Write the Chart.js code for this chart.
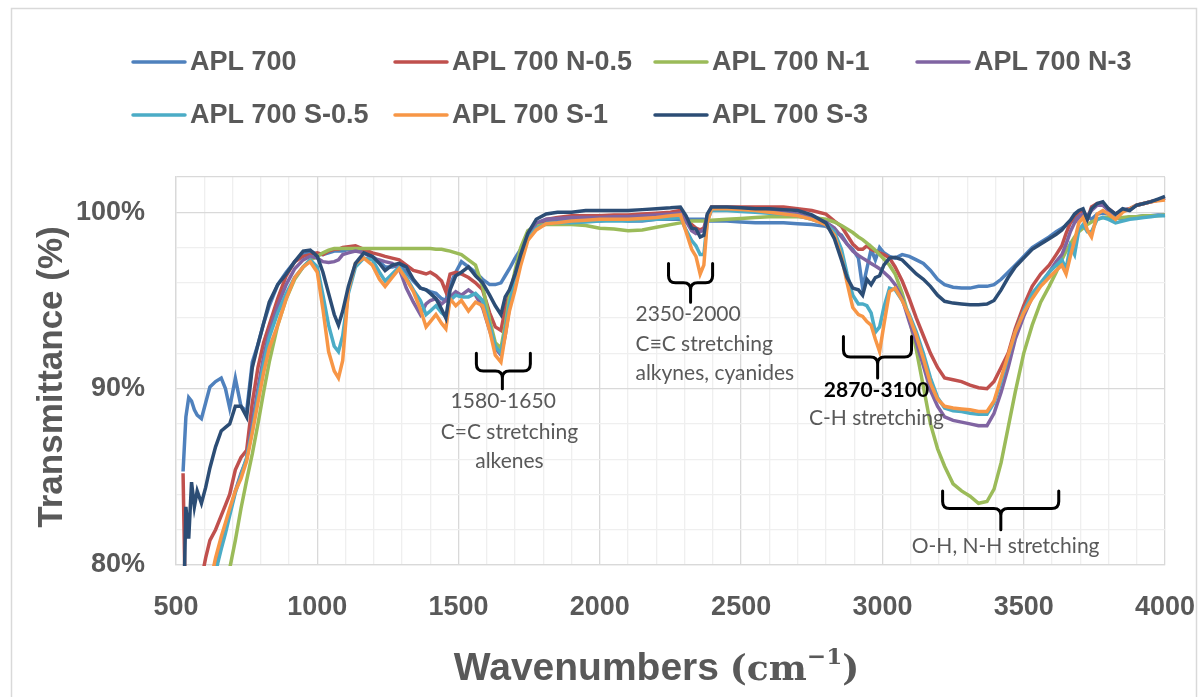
<!DOCTYPE html>
<html>
<head>
<meta charset="utf-8">
<script src="https://cdn.jsdelivr.net/npm/chart.js@4.4.1/dist/chart.umd.min.js"></script>
<style>
  html, body { margin: 0; padding: 0; background: #fff; }
  canvas { display: block; }
</style>
</head>
<body>
<canvas id="graficoFTIR" width="1203" height="697"></canvas>
<script>
const numerosDeOnda = [
  525, 535, 545, 555, 565, 575, 590, 605, 620, 640,
  660, 675, 690, 710, 730, 750, 770, 790, 810, 830,
  860, 890, 920, 950, 975, 1000, 1020, 1040, 1060, 1075,
  1090, 1110, 1135, 1165, 1195, 1220, 1240, 1265, 1290, 1315,
  1340, 1365, 1385, 1400, 1420, 1440, 1455, 1470, 1490, 1510,
  1535, 1560, 1585, 1610, 1630, 1650, 1665, 1680, 1700, 1720,
  1745, 1775, 1810, 1850, 1900, 1950, 2000, 2050, 2100, 2150,
  2200, 2250, 2285, 2305, 2325, 2340, 2355, 2368, 2380, 2395,
  2450, 2500, 2550, 2600, 2650, 2700, 2750, 2800, 2830, 2855,
  2875, 2895, 2915, 2930, 2945, 2960, 2975, 2990, 3005, 3025,
  3045, 3070, 3095, 3120, 3145, 3170, 3195, 3220, 3250, 3280,
  3310, 3340, 3370, 3395, 3420, 3445, 3470, 3500, 3530, 3560,
  3590, 3615, 3635, 3650, 3665, 3680, 3695, 3710, 3725, 3740,
  3760, 3780, 3800, 3825, 3850, 3875, 3900, 3925, 3950, 3975,
  4000
];

const apl700 = [
  85.3, 88.4, 89.5, 89.3, 88.8, 88.5, 88.3, 89.2, 90.1, 90.4,
  90.6, 90.0, 88.9, 90.6, 89.0, 88.7, 91.5, 92.5, 93.7, 94.7,
  95.9, 96.6, 97.2, 97.6, 97.8, 97.6, 97.6, 97.7, 97.8, 97.8,
  97.8, 97.9, 97.9, 97.8, 97.5, 97.2, 96.9, 96.9, 97.0, 96.6,
  96.1, 95.7, 95.6, 95.5, 95.4, 95.1, 95.0, 95.9, 96.6, 97.2,
  96.9, 96.6, 96.2, 95.9, 95.9, 96.0, 96.4, 96.8, 97.4, 97.9,
  98.6, 99.2, 99.5, 99.5, 99.6, 99.6, 99.5, 99.6, 99.5, 99.5,
  99.6, 99.6, 99.6, 99.6, 99.6, 99.6, 99.6, 99.6, 99.5, 99.5,
  99.5, 99.45, 99.4, 99.4, 99.4, 99.35, 99.3, 99.2, 98.9, 98.7,
  98.2, 97.9, 97.4, 95.7, 96.8, 97.9, 97.3, 98.0, 97.7, 97.5,
  97.4, 97.6, 97.5, 97.3, 97.1, 96.7, 96.2, 95.9, 95.75, 95.7,
  95.7, 95.8, 95.8, 95.9, 96.2, 96.6, 97.0, 97.5, 98.0, 98.3,
  98.6, 98.9, 99.1, 99.25, 99.4, 99.6, 99.8, 99.9, 99.8, 99.6,
  99.9, 99.95, 99.9, 99.7, 99.6, 99.75, 99.75, 99.8, 99.8, 99.85,
  99.85
];

const apl700N05 = [
  85.2, 76.0, 75.0, 75.5, 76.5, 77.5, 79.2, 80.4, 81.4, 82.0,
  82.8, 83.4, 84.0, 85.4, 86.1, 86.5, 89.2, 91.2, 92.6, 93.6,
  95.1, 96.4, 97.2, 97.5, 97.6, 97.7, 97.6, 97.8, 97.9, 97.9,
  98.0, 98.05, 98.1, 97.9, 97.7, 97.6, 97.5, 97.4, 97.3, 97.0,
  96.7, 96.6, 96.5, 96.6, 96.4, 96.1, 95.5, 96.5, 96.6, 96.5,
  96.3, 96.0, 95.6, 94.3, 93.5, 93.3, 94.5, 95.4, 96.5, 97.4,
  98.5, 99.3, 99.6, 99.7, 99.8, 99.8, 99.8, 99.85, 99.85, 99.9,
  99.95, 100.0, 100.1, 99.7, 99.3, 99.1, 99.0, 99.1, 99.8, 100.3,
  100.3, 100.3, 100.3, 100.3, 100.3, 100.2, 100.1, 99.9, 99.5, 99.2,
  98.7, 98.2, 97.9, 97.9, 98.1, 97.9, 97.8, 97.7, 97.6, 97.4,
  96.9, 96.1, 95.1, 94.0, 93.0, 92.0, 91.2, 90.6, 90.5, 90.4,
  90.2, 90.05, 90.0, 90.4, 91.2, 92.0, 93.4, 94.7, 95.8, 96.5,
  97.0, 97.6, 98.1, 98.8, 99.4, 99.8, 100.0, 100.1, 99.6, 100.3,
  100.5, 100.5, 100.2, 99.9, 100.1, 100.2, 100.4, 100.5, 100.6, 100.7,
  100.8
];

const apl700N1 = [
  70.0, 70.5, 71.0, 71.5, 72.0, 72.5, 73.3, 74.2, 75.0, 76.4,
  77.7, 78.8, 79.8, 81.4, 83.2, 84.8, 86.3, 88.0, 89.8, 91.5,
  93.6, 95.1, 96.2, 96.9, 97.3, 97.5, 97.7, 97.85, 97.95, 97.95,
  97.95, 97.95, 97.95, 97.95, 97.95, 97.95, 97.95, 97.95, 97.95, 97.95,
  97.95, 97.95, 97.95, 97.95, 97.9, 97.9, 97.85, 97.8, 97.7, 97.6,
  97.3, 97.0, 95.8, 93.9, 92.6, 92.3, 93.6, 95.2, 96.7, 98.0,
  98.95, 99.25, 99.3, 99.3, 99.3, 99.25, 99.1, 99.05, 98.95, 99.0,
  99.15, 99.3, 99.4, 99.45, 99.5, 99.5, 99.5, 99.5, 99.55, 99.55,
  99.6, 99.65, 99.7, 99.75, 99.75, 99.75, 99.7, 99.6, 99.45, 99.25,
  99.05, 98.85, 98.6, 98.45, 98.25, 98.05, 97.85, 97.6, 97.35, 97.0,
  96.5, 95.4, 94.0, 92.2, 90.1, 88.0, 86.6, 85.6, 84.6, 84.2,
  83.9, 83.5, 83.6, 84.3, 85.8, 87.8, 89.8, 92.0, 93.6, 94.9,
  95.8, 96.6, 97.3, 97.8, 98.2, 98.6, 98.9, 99.1, 99.3, 99.45,
  99.6, 99.7, 99.7, 99.65, 99.7, 99.75, 99.75, 99.8, 99.8, 99.8,
  99.85
];

const apl700N3 = [
  72.0, 72.5, 73.0, 73.5, 74.0, 74.8, 76.0, 77.3, 78.6, 80.2,
  81.4, 82.2, 83.0, 84.2, 85.2, 86.0, 88.0, 90.0, 91.8, 93.2,
  94.7, 95.9, 96.8, 97.3, 97.5, 97.4, 97.2, 97.15, 97.2, 97.3,
  97.6, 97.7, 97.8, 97.7, 97.4, 97.3, 97.2, 97.1, 96.8, 95.7,
  94.9, 94.2, 94.8, 95.0, 95.1, 94.8, 95.0, 95.2, 95.5, 95.3,
  95.6, 95.3, 94.6, 93.3, 92.3, 91.9, 93.0, 94.6, 96.1, 97.5,
  98.6, 99.4, 99.6, 99.65, 99.7, 99.7, 99.7, 99.75, 99.75, 99.8,
  99.85, 99.9, 99.95, 99.5, 98.95, 98.8, 98.9, 99.0, 99.8, 100.2,
  100.2, 100.2, 100.15, 100.1, 100.0, 99.9, 99.7, 99.45, 99.1, 98.6,
  98.2, 97.8, 97.55, 97.4, 97.25, 97.1, 96.95, 96.8, 96.6, 96.3,
  95.9, 95.1, 93.8, 92.6, 91.3, 89.9, 89.0, 88.4, 88.2, 88.1,
  88.0, 87.9, 87.9, 88.6, 89.8, 91.2, 92.8, 94.1, 95.2, 95.9,
  96.6, 97.2, 97.6, 98.2, 98.9, 99.4, 99.7, 99.9, 99.8, 100.1,
  100.4, 100.4, 100.1, 99.9, 100.1, 100.2, 100.4, 100.5, 100.6, 100.7,
  100.8
];

const apl700S05 = [
  71.0, 71.5, 72.0, 72.5, 73.2, 74.0, 75.2, 76.5, 77.8, 79.6,
  80.9, 81.8, 82.8, 84.1, 85.1, 86.1, 87.6, 89.6, 91.4, 92.9,
  94.3, 95.4, 96.3, 96.9, 97.3, 96.9, 95.3, 93.6, 92.4, 92.1,
  93.0, 95.4, 96.9, 97.4, 97.3, 96.6, 96.1, 96.5, 96.9, 96.3,
  95.6, 95.0, 94.2, 94.4, 94.7, 94.3, 94.1, 95.0, 95.3, 95.2,
  95.2, 95.4, 95.0, 93.6, 92.4, 92.0, 93.3, 94.8, 96.2, 97.4,
  98.5, 99.1, 99.35, 99.4, 99.4, 99.45, 99.5, 99.5, 99.5, 99.55,
  99.6, 99.65, 99.7, 99.0, 98.4, 98.1, 97.6, 97.6, 99.5, 100.1,
  100.1, 100.05, 100.0, 99.95, 99.9, 99.8, 99.6, 99.35, 98.9, 97.9,
  96.5, 95.3, 94.8, 94.8, 94.7, 94.3, 93.2, 93.5, 94.6, 95.7,
  95.6, 95.0, 94.2, 93.2, 92.0, 90.6, 89.5, 88.9, 88.75, 88.7,
  88.6, 88.55, 88.55, 89.2, 90.4, 91.8, 93.2, 94.4, 95.4, 96.0,
  96.6, 97.0, 97.3, 96.8, 98.1, 97.6, 99.0, 99.3, 98.9, 98.9,
  99.6, 99.7, 99.6, 99.4, 99.5, 99.6, 99.65, 99.7, 99.75, 99.8,
  99.8
];

const apl700S1 = [
  72.0, 72.5, 73.0, 73.5, 74.2, 75.0, 76.3, 77.7, 78.9, 80.4,
  81.6, 82.4, 83.2, 84.2, 84.9, 85.9, 87.5, 89.2, 90.9, 92.3,
  93.6, 95.1, 96.3, 96.9, 97.2, 96.6, 94.5, 92.1, 91.0, 90.6,
  91.6, 95.6, 97.1, 97.4, 97.0, 96.2, 95.8, 96.3, 96.8, 96.2,
  95.5, 94.5, 93.5, 93.8, 94.2, 93.7, 93.4, 95.1, 94.7, 95.0,
  94.4, 94.9, 94.7, 93.3, 91.9, 91.5, 93.0, 94.4, 95.6, 97.0,
  98.4, 99.0, 99.35, 99.4, 99.5, 99.55, 99.6, 99.6, 99.6, 99.65,
  99.7, 99.8, 99.85, 98.9, 97.9, 97.5, 96.5, 97.0, 99.4, 100.2,
  100.2, 100.15, 100.1, 100.0, 99.9, 99.8, 99.6, 99.3, 98.7, 97.5,
  96.0, 94.6, 94.2, 94.1, 93.8, 93.6, 92.8, 92.1, 93.6, 95.5,
  95.7, 95.0, 94.1, 93.0, 91.7, 90.3, 89.4, 89.0, 88.9, 88.85,
  88.8, 88.7, 88.7, 89.3, 90.6, 91.9, 93.2, 94.3, 95.1, 95.8,
  96.3, 96.7, 97.0, 96.5, 97.5, 98.4, 99.4, 99.7, 99.0, 98.6,
  99.9, 100.1, 99.9, 99.6, 100.0, 100.2, 100.4, 100.5, 100.6, 100.65,
  100.7
];

const apl700S3 = [
  76.0, 83.3, 81.5, 84.7, 83.3, 84.2, 83.5, 84.4, 85.5, 86.7,
  87.6, 87.8, 88.0, 89.0, 89.0, 88.4, 91.2, 92.5, 93.7, 94.9,
  95.9, 96.5, 97.2, 97.8, 97.85, 97.5, 96.6, 95.4, 94.2, 93.6,
  94.4, 95.8, 97.1, 97.7, 97.5, 97.1, 96.7, 97.0, 97.1, 96.9,
  96.2, 95.7, 95.6, 95.4, 95.1, 94.5, 94.0, 95.6, 96.4, 96.6,
  96.9, 96.4, 96.0, 95.3, 94.7, 94.2, 95.2, 95.6, 96.5, 97.6,
  98.8, 99.6, 99.9, 100.0, 100.0, 100.1, 100.1, 100.1, 100.1, 100.15,
  100.2, 100.25, 100.3, 99.8, 99.1, 99.05, 98.6, 98.7, 99.9, 100.3,
  100.3, 100.25, 100.2, 100.2, 100.15, 100.1, 99.85, 99.4, 98.5, 97.3,
  96.3, 95.7, 95.6, 95.3, 96.2, 95.9, 96.3, 96.4, 97.0, 97.4,
  97.45, 97.3, 96.9, 96.5, 96.2, 95.8, 95.3, 94.95, 94.85, 94.8,
  94.75, 94.75, 94.8, 95.0, 95.6, 96.3, 96.9, 97.4, 97.9, 98.2,
  98.5, 98.75, 99.0, 99.3, 99.55, 99.9, 100.1, 100.2, 99.6, 100.2,
  100.5, 100.6, 100.2, 99.9, 100.2, 100.1, 100.4, 100.5, 100.6, 100.75,
  100.9
];

const nomesSeries = ['APL 700', 'APL 700 N-0.5', 'APL 700 N-1', 'APL 700 N-3',
  'APL 700 S-0.5', 'APL 700 S-1', 'APL 700 S-3'];
const valoresSeries = [apl700, apl700N05, apl700N1, apl700N3, apl700S05, apl700S1, apl700S3];
const coresSeries = ['#4F81BD', '#C0504D', '#9BBB59', '#8064A2', '#4BACC6', '#F79646', '#2C4D75'];

const marcasX = [500, 1000, 1500, 2000, 2500, 3000, 3500, 4000];
const marcasY = [80, 90, 100];

// ANOTACOES (em coordenadas do grafico)
const chaves = [
  { de: 1563, ate: 1754, meio: 1655, topo: 92.0, dobra: 91.0, ponta: 90.0 },
  { de: 2243, ate: 2399, meio: 2321, topo: 97.1, dobra: 96.0, ponta: 94.9 },
  { de: 2862, ate: 3103, meio: 2983, topo: 92.95, dobra: 91.8, ponta: 90.6 },
  { de: 3213, ate: 3624, meio: 3419, topo: 84.2, dobra: 83.2, ponta: 82.0 }
];
const rotulos = [
  { texto: '1580-1650', x: 1658, y: 89.3, alinhar: 'center' },
  { texto: 'C=C stretching', x: 1680, y: 87.5, alinhar: 'center' },
  { texto: 'alkenes', x: 1680, y: 85.86, alinhar: 'center' },
  { texto: '2350-2000', x: 2126, y: 94.2, alinhar: 'left' },
  { texto: 'C≡C stretching', x: 2126, y: 92.5, alinhar: 'left' },
  { texto: 'alkynes, cyanides', x: 2126, y: 90.85, alinhar: 'left' },
  { texto: '2870-3100', x: 2979, y: 89.9, alinhar: 'center', destaque: true },
  { texto: 'C-H stretching', x: 2979, y: 88.35, alinhar: 'center' },
  { texto: 'O-H, N-H stretching', x: 3436, y: 81.05, alinhar: 'center' }
];

const fonteTexto = '"Liberation Sans", Arial, sans-serif';
const fonteNota = 'Lato, "Open Sans", sans-serif';
const corTexto = '#595959';
const corGradeForte = '#D9D9D9';
const corGradeFraca = '#EFEFEF';

//PLUGINS
const fundoBorda = {
  id: 'fundoBorda',
  beforeDraw(chart) {
    const ctx = chart.ctx;
    ctx.save();
    ctx.fillStyle = '#fff';
    ctx.fillRect(0, 0, chart.width, chart.height);
    ctx.strokeStyle = corGradeForte;
    ctx.lineWidth = 1.5;
    ctx.strokeRect(11.5, 8.5, 1185, 700);
    ctx.restore();
  }
};

const legendaGrade = {
  id: 'legendaGrade',
  afterDraw(chart) {
    const ctx = chart.ctx;
    const colunas = [133, 395, 655, 917];
    const linhas = [62, 115];
    ctx.save();
    ctx.font = 'bold 27px ' + fonteTexto;
    ctx.textBaseline = 'middle';
    chart.data.datasets.forEach((ds, i) => {
      const x = colunas[i % 4];
      const y = linhas[Math.floor(i / 4)];
      ctx.strokeStyle = ds.borderColor;
      ctx.lineWidth = 3.5;
      ctx.lineCap = 'round';
      ctx.beginPath();
      ctx.moveTo(x, y);
      ctx.lineTo(x + 52, y);
      ctx.stroke();
      ctx.fillStyle = corTexto;
      ctx.fillText(ds.label, x + 57, y + 1);
    });
    ctx.restore();
  }
};

const anotacoes = {
  id: 'anotacoes',
  afterDatasetsDraw(chart) {
    const ctx = chart.ctx;
    const sx = chart.scales.x;
    const sy = chart.scales.y;
    const r = 7;
    ctx.save();
    ctx.strokeStyle = '#000';
    ctx.lineWidth = 3;
    ctx.lineCap = 'round';
    ctx.lineJoin = 'round';
    chaves.forEach(c => {
      const x0 = sx.getPixelForValue(c.de);
      const x1 = sx.getPixelForValue(c.ate);
      const xm = sx.getPixelForValue(c.meio);
      const yt = sy.getPixelForValue(c.topo);
      const yd = sy.getPixelForValue(c.dobra);
      const yp = sy.getPixelForValue(c.ponta);
      ctx.beginPath();
      ctx.moveTo(x0, yt);
      ctx.lineTo(x0, yd - r);
      ctx.quadraticCurveTo(x0, yd, x0 + r, yd);
      ctx.lineTo(xm - r, yd);
      ctx.quadraticCurveTo(xm, yd, xm, yd + r);
      ctx.lineTo(xm, yp);
      ctx.moveTo(x1, yt);
      ctx.lineTo(x1, yd - r);
      ctx.quadraticCurveTo(x1, yd, x1 - r, yd);
      ctx.lineTo(xm + r, yd);
      ctx.quadraticCurveTo(xm, yd, xm, yd + r);
      ctx.stroke();
    });
    ctx.textBaseline = 'middle';
    rotulos.forEach(t => {
      ctx.font = (t.destaque ? 'bold ' : '') + '21px ' + fonteNota;
      ctx.fillStyle = t.destaque ? '#000' : corTexto;
      ctx.textAlign = t.alinhar;
      ctx.fillText(t.texto, sx.getPixelForValue(t.x), sy.getPixelForValue(t.y));
    });
    ctx.restore();
  }
};

const titulosEixos = {
  id: 'titulosEixos',
  afterDraw(chart) {
    const ctx = chart.ctx;
    const area = chart.chartArea;
    ctx.save();
    ctx.fillStyle = corTexto;
    ctx.translate(62, (area.top + area.bottom) / 2 + 6);
    ctx.rotate(-Math.PI / 2);
    ctx.font = 'bold 35px ' + fonteTexto;
    ctx.textAlign = 'center';
    ctx.textBaseline = 'alphabetic';
    ctx.fillText('Transmittance (%)', 0, 0);
    ctx.restore();

    // titulo do eixo X com a unidade em fonte serifada
    const partes = [
      { t: 'Wavenumbers ', f: 'bold 39px ' + fonteTexto, dy: 0 },
      { t: '(cm', f: 'bold 36px "DejaVu Serif", serif', dy: 0 },
      { t: '−1', f: 'bold 23px "DejaVu Serif", serif', dy: -16 },
      { t: ')', f: 'bold 36px "DejaVu Serif", serif', dy: 0 }
    ];
    ctx.save();
    ctx.fillStyle = corTexto;
    ctx.textBaseline = 'alphabetic';
    let total = 0;
    partes.forEach(p => { ctx.font = p.f; p.w = ctx.measureText(p.t).width; total += p.w; });
    let x = (area.left + area.right) / 2 - 14 - total / 2;
    partes.forEach(p => {
      ctx.font = p.f;
      ctx.fillText(p.t, x, 680 + p.dy);
      x += p.w;
    });
    ctx.restore();
  }
};

//GRAFICO
const graficoFTIR = document.getElementById('graficoFTIR');
const graficoParaFTIR = new Chart(graficoFTIR, {
  type: 'line',
  data: {
    datasets: nomesSeries.map((nome, i) => ({
      label: nome,
      data: numerosDeOnda.map((w, k) => ({ x: w, y: valoresSeries[i][k] })),
      borderColor: coresSeries[i],
      backgroundColor: coresSeries[i],
      borderWidth: 3.5,
      pointRadius: 0,
      tension: 0,
      fill: false,
      clip: 1,
      order: nomesSeries.length - i
    }))
  },
  options: {
    responsive: false,
    animation: false,
    devicePixelRatio: 1,
    layout: { padding: { left: 0, top: 177, right: 38, bottom: 0 } },
    plugins: {
      legend: { display: false },
      tooltip: { enabled: false }
    },
    scales: {
      x: {
        type: 'linear',
        min: 500,
        max: 4000,
        afterFit(scale) {
          scale.height = 132;
          scale.paddingLeft = 0;
          scale.paddingRight = 0;
        },
        ticks: {
          stepSize: 100,
          autoSkip: false,
          maxRotation: 0,
          padding: 26,
          color: corTexto,
          font: { family: fonteTexto, size: 27, weight: 'bold' },
          callback: v => marcasX.includes(v) ? String(v) : ''
        },
        grid: {
          drawTicks: false,
          lineWidth: 1.3,
          color: c => (c.tick && c.tick.value % 500 === 0) ? corGradeForte : corGradeFraca
        },
        border: { color: corGradeForte, width: 1.3 }
      },
      y: {
        min: 80,
        max: 102,
        afterFit(scale) {
          scale.width = 176;
          scale.paddingTop = 0;
          scale.paddingBottom = 0;
        },
        ticks: {
          stepSize: 2,
          autoSkip: false,
          padding: 31,
          color: corTexto,
          font: { family: fonteTexto, size: 27, weight: 'bold' },
          callback: v => marcasY.includes(v) ? v + '%' : ''
        },
        grid: {
          drawTicks: false,
          lineWidth: 1.3,
          color: c => (c.tick && (c.tick.value % 10 === 0 || c.tick.value === 102)) ? corGradeForte : corGradeFraca
        },
        border: { color: corGradeForte, width: 1.3 }
      }
    }
  },
  plugins: [fundoBorda, anotacoes, legendaGrade, titulosEixos]
});
</script>
</body>
</html>
